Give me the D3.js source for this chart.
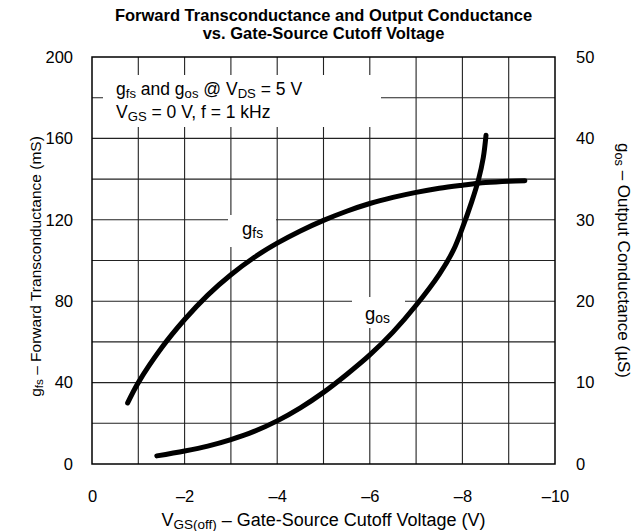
<!DOCTYPE html>
<html>
<head>
<meta charset="utf-8">
<script src="https://cdn.jsdelivr.net/npm/d3@7"></script>
<style>
  body { margin: 0; background: #fff; }
  svg { font-family: 'Liberation Sans', Arial, sans-serif; }
</style>
</head>
<body>
<div id="chart"></div>
<script>
'use strict'

// V_GS(off) in volts (negative), readings
const gfsVolts = [-0.77, -1.0, -1.5, -2.0, -2.5, -3.0, -3.5, -4.0, -4.5, -5.0, -5.5, -6.0, -6.5, -7.0, -7.5, -8.0, -8.5, -9.0, -9.35]
const gfsValues = [30, 40, 57, 71, 83, 93, 101.5, 108.5, 114.5, 119.7, 124.2, 128, 131, 133.5, 135.5, 137, 138.3, 139, 139.2]

const gosVolts = [-1.4, -2.0, -2.5, -3.0, -3.5, -4.0, -4.5, -5.0, -5.5, -6.0, -6.5, -7.0, -7.5, -7.8, -8.0, -8.2, -8.35, -8.45, -8.51]
const gosValues = [1.0, 1.6, 2.2, 3.0, 4.0, 5.3, 6.9, 8.8, 11.0, 13.4, 16.2, 19.5, 23.3, 26.2, 29.0, 32.2, 35.0, 37.6, 40.4]

const xTicks = [0, -2, -4, -6, -8, -10]
const leftTicks = [0, 40, 80, 120, 160, 200]
const rightTicks = [0, 10, 20, 30, 40, 50]

const width = 644
const height = 531
const margin = { top: 57, right: 89, bottom: 67, left: 92 }

const svg = d3.select('#chart')
  .append('svg')
  .attr('width', width)
  .attr('height', height)

const x = d3.scaleLinear().domain([0, -10]).range([margin.left, width - margin.right])
const yL = d3.scaleLinear().domain([0, 200]).range([height - margin.bottom, margin.top])
const yR = d3.scaleLinear().domain([0, 50]).range([height - margin.bottom, margin.top])

const fmt = d => (d < 0 ? '\u2013' + Math.abs(d) : String(d))

// grid: every 1 V and every 20 mS
const grid = svg.append('g').attr('stroke', '#222').attr('stroke-width', 1.1)
grid.selectAll('line.v')
  .data(d3.range(-1, -10, -1))
  .enter().append('line')
  .attr('x1', d => x(d)).attr('x2', d => x(d))
  .attr('y1', yL(200)).attr('y2', yL(0))
grid.selectAll('line.h')
  .data(d3.range(20, 200, 20))
  .enter().append('line')
  .attr('x1', x(0)).attr('x2', x(-10))
  .attr('y1', d => yL(d)).attr('y2', d => yL(d))

// white boxes that break the grid behind labels
const boxes = [
  [103, 75, 278, 52],
  [228, 215, 48, 32],
  [352, 297, 53, 31]
]
svg.append('g').selectAll('rect')
  .data(boxes)
  .enter().append('rect')
  .attr('x', d => d[0]).attr('y', d => d[1])
  .attr('width', d => d[2]).attr('height', d => d[3])
  .attr('fill', '#fff')

// frame
svg.append('rect')
  .attr('x', x(0)).attr('y', yL(200))
  .attr('width', x(-10) - x(0)).attr('height', yL(0) - yL(200))
  .attr('fill', 'none').attr('stroke', '#000').attr('stroke-width', 1.5)

// axes (labels only)
const axisStyle = g => {
  g.select('.domain').remove()
  g.selectAll('text').attr('font-size', 16.5).attr('fill', '#000').attr('font-family', null)
}
svg.append('g')
  .attr('transform', `translate(${x(0)},0)`)
  .call(d3.axisLeft(yL).tickValues(leftTicks).tickSize(0).tickPadding(19))
  .call(axisStyle)
svg.append('g')
  .attr('transform', `translate(${x(-10)},0)`)
  .call(d3.axisRight(yR).tickValues(rightTicks).tickSize(0).tickPadding(21))
  .call(axisStyle)
svg.append('g')
  .attr('transform', `translate(0,${yL(0)})`)
  .call(d3.axisBottom(x).tickValues(xTicks).tickFormat(fmt).tickSize(0).tickPadding(26))
  .call(axisStyle)

// curves
const line = (xs, ys, yScale) => d3.line()
  .x((d, i) => x(xs[i]))
  .y(d => yScale(d))
  .curve(d3.curveCatmullRom.alpha(0.5))(ys)

svg.append('path')
  .attr('d', line(gfsVolts, gfsValues, yL))
  .attr('fill', 'none').attr('stroke', '#000').attr('stroke-width', 5).attr('stroke-linecap', 'round')
svg.append('path')
  .attr('d', line(gosVolts, gosValues, yR))
  .attr('fill', 'none').attr('stroke', '#000').attr('stroke-width', 5).attr('stroke-linecap', 'round')

// helper for text with subscripts: parts = [[text, isSub], ...]
function richText (sel, parts, size) {
  parts.forEach(([t, sub]) => {
    sel.append('tspan')
      .attr('font-size', sub ? size * 0.75 : size)
      .attr('baseline-shift', sub ? '-20%' : null)
      .text(t)
  })
  return sel
}

// title
svg.append('text')
  .attr('x', (x(0) + x(-10)) / 2).attr('y', 21)
  .attr('text-anchor', 'middle').attr('font-weight', 'bold').attr('font-size', 16.5)
  .text('Forward Transconductance and Output Conductance')
svg.append('text')
  .attr('x', (x(0) + x(-10)) / 2).attr('y', 39)
  .attr('text-anchor', 'middle').attr('font-weight', 'bold').attr('font-size', 16.5)
  .text('vs. Gate-Source Cutoff Voltage')

// axis titles
richText(svg.append('text')
  .attr('transform', `translate(41,${(yL(0) + yL(200)) / 2 + 6}) rotate(-90)`)
  .attr('text-anchor', 'middle'),
[['g', false], ['fs', true], [' \u2013 Forward Transconductance (mS)', false]], 15.5)

richText(svg.append('text')
  .attr('transform', `translate(618,${(yL(0) + yL(200)) / 2}) rotate(90)`)
  .attr('text-anchor', 'middle'),
[['g', false], ['os', true], [' \u2013 Output Conductance (\u00b5S)', false]], 17)

richText(svg.append('text')
  .attr('x', (x(0) + x(-10)) / 2).attr('y', 526)
  .attr('text-anchor', 'middle'),
[['V', false], ['GS(off)', true], [' \u2013 Gate-Source Cutoff Voltage (V)', false]], 18)

// annotation
richText(svg.append('text').attr('x', 116).attr('y', 95),
  [['g', false], ['fs', true], [' and g', false], ['os', true], [' @ V', false], ['DS', true], [' = 5 V', false]], 17.5)
richText(svg.append('text').attr('x', 116).attr('y', 118),
  [['V', false], ['GS', true], [' = 0 V, f = 1 kHz', false]], 17.5)

// curve labels
richText(svg.append('text').attr('x', 242).attr('y', 235), [['g', false], ['fs', true]], 18.5)
richText(svg.append('text').attr('x', 365).attr('y', 320), [['g', false], ['os', true]], 18.5)
</script>
</body>
</html>
